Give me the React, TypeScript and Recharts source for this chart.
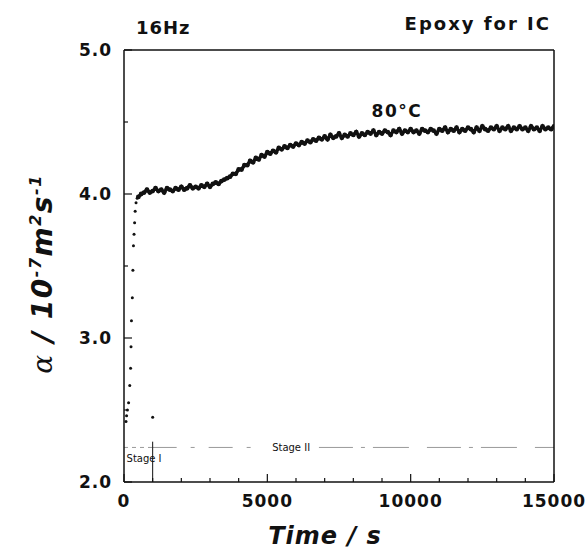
import React from "react";
import {
  ScatterChart,
  Scatter,
  XAxis,
  YAxis,
  ReferenceLine,
  ReferenceDot,
} from "recharts";

// initial fast rise (stage I), seconds / 10^-7 m2 s-1
const riseTime = [70, 90, 120, 160, 200, 230, 245, 260, 290, 310, 330, 350, 370, 390, 420, 460, 1000];
const riseAlpha = [2.42, 2.46, 2.5, 2.55, 2.67, 2.79, 2.94, 3.12, 3.28, 3.47, 3.64, 3.72, 3.8, 3.88, 3.94, 3.97, 2.45];

// band sampled every 100 s
const SAMPLE_STEP = 100;
const plateauStart = 500; // 500 .. 3000
const plateauAlpha = [
  3.98, 4.0, 4.01, 4.03, 4.01, 4.02, 4.04, 4.02, 4.03, 4.01, 4.04, 4.03, 4.02,
  4.04, 4.03, 4.05, 4.03, 4.04, 4.06, 4.04, 4.05, 4.04, 4.06, 4.05, 4.07, 4.05,
];
const transitionStart = 3100; // 3100 .. 7000
const transitionAlpha = [
  4.07, 4.08, 4.07, 4.09, 4.1, 4.11, 4.12, 4.14, 4.14, 4.17, 4.17, 4.2, 4.2,
  4.23, 4.22, 4.25, 4.24, 4.27, 4.26, 4.29, 4.28, 4.3, 4.29, 4.32, 4.31, 4.33,
  4.32, 4.34, 4.33, 4.35, 4.34, 4.36, 4.35, 4.37, 4.36, 4.38, 4.37, 4.39, 4.38,
  4.4,
];
const finalStart = 7100; // 7100 .. 15000
const finalAlpha = [
  4.38, 4.41, 4.39, 4.4, 4.42, 4.39, 4.41, 4.4, 4.42, 4.41, 4.43, 4.4, 4.42,
  4.41, 4.43, 4.42, 4.44, 4.41, 4.43, 4.42, 4.44, 4.43, 4.41, 4.44, 4.43, 4.45,
  4.42, 4.44, 4.43, 4.45, 4.43, 4.44, 4.42, 4.45, 4.44, 4.43, 4.45, 4.44, 4.42,
  4.45, 4.44, 4.46, 4.43, 4.45, 4.44, 4.46, 4.43, 4.45, 4.44, 4.46, 4.45, 4.43,
  4.46, 4.44, 4.47, 4.45, 4.44, 4.46, 4.45, 4.47, 4.44, 4.46, 4.45, 4.47, 4.44,
  4.46, 4.45, 4.47, 4.45, 4.46, 4.44, 4.47, 4.45, 4.46, 4.44, 4.47, 4.45, 4.46,
  4.45, 4.47,
];

const xTicks = [0, 1000, 2000, 3000, 4000, 5000, 6000, 7000, 8000, 9000, 10000, 11000, 12000, 13000, 14000, 15000];
const xMajor = [0, 5000, 10000, 15000];
const yTicks = [2, 2.5, 3, 3.5, 4, 4.5, 5];
const yMajor = [2, 3, 4, 5];

const stageLevel = 2.24;
const stageBoundary = 1000;

const toPoints = (start: number, values: number[]) =>
  values.map((a, i) => ({ t: start + i * SAMPLE_STEP, a }));

const riseData = riseTime.map((t, i) => ({ t, a: riseAlpha[i] }));
const bandData = [
  ...toPoints(plateauStart, plateauAlpha),
  ...toPoints(transitionStart, transitionAlpha),
  ...toPoints(finalStart, finalAlpha),
];

const INK = "#111";
const FONT = "'DejaVu Sans', sans-serif";

const BottomTick = ({ x, y, payload }: any) => {
  const major = xMajor.includes(payload.value);
  return (
    <g>
      <line x1={x} x2={x} y1={y} y2={y - (major ? 8 : 4)} stroke={INK} strokeWidth={1.2} />
      {major && (
        <text x={x} y={y + 25} textAnchor="middle" fontFamily={FONT} fontWeight="bold" fontSize={17} letterSpacing={1} fill={INK}>
          {payload.value}
        </text>
      )}
    </g>
  );
};

const TopTick = ({ x, y, payload }: any) => {
  const major = xMajor.includes(payload.value);
  return <line x1={x} x2={x} y1={y} y2={y + (major ? 8 : 4)} stroke={INK} strokeWidth={1.2} />;
};

const LeftTick = ({ x, y, payload }: any) => {
  const major = yMajor.includes(payload.value);
  return (
    <g>
      <line x1={x} x2={x + (major ? 8 : 4)} y1={y} y2={y} stroke={INK} strokeWidth={1.2} />
      {major && (
        <text x={x - 12} y={y + 6} textAnchor="end" fontFamily={FONT} fontWeight="bold" fontSize={17} letterSpacing={1} fill={INK}>
          {payload.value.toFixed(1)}
        </text>
      )}
    </g>
  );
};

const RightTick = ({ x, y, payload }: any) => {
  const major = yMajor.includes(payload.value);
  return <line x1={x} x2={x - (major ? 8 : 4)} y1={y} y2={y} stroke={INK} strokeWidth={1.2} />;
};

const renderYLabel = ({ viewBox }: any) => {
  const cx = viewBox.x + 38;
  const cy = viewBox.y + viewBox.height / 2 + 8;
  return (
    <text
      transform={`translate(${cx},${cy}) rotate(-90)`}
      textAnchor="middle"
      fontFamily={FONT}
      fontWeight="bold"
      fontStyle="italic"
      fontSize={28}
      letterSpacing={1.5}
      fill={INK}
    >
      <tspan fontFamily="'DejaVu Serif', serif" fontWeight="normal">α</tspan>
      <tspan> / 10</tspan>
      <tspan dy={-11} fontSize={16}>-7</tspan>
      <tspan dy={11}>m</tspan>
      <tspan dy={-11} fontSize={16}>2</tspan>
      <tspan dy={11}>s</tspan>
      <tspan dy={-11} fontSize={16}>-1</tspan>
    </text>
  );
};

const renderXLabel = ({ viewBox }: any) => (
  <text
    x={viewBox.x + viewBox.width / 2 - 14}
    y={viewBox.y + 62}
    textAnchor="middle"
    fontFamily={FONT}
    fontWeight="bold"
    fontStyle="italic"
    fontSize={24}
    letterSpacing={1}
    fill={INK}
  >
    Time / s
  </text>
);

const smallLabel = (text: string) => ({ viewBox }: any) => (
  <text x={viewBox.x} y={viewBox.y + 4} textAnchor="middle" fontFamily={FONT} fontSize={10} fill={INK}>
    {text}
  </text>
);

const tempLabel = ({ viewBox }: any) => (
  <text x={viewBox.x} y={viewBox.y + 7} textAnchor="middle" fontFamily={FONT} fontWeight="bold" fontSize={17} letterSpacing={1.5} fill={INK}>
    80°C
  </text>
);

const SmallDot = (p: any) => <circle cx={p.cx} cy={p.cy} r={1.5} fill={INK} />;
const BandDot = (p: any) => <circle cx={p.cx} cy={p.cy} r={2.4} fill={INK} />;

export default function App() {
  return (
    <div style={{ position: "absolute", left: 0, top: 0, width: 587, height: 550, background: "#fff" }}>
      <ScatterChart width={587} height={550} margin={{ top: 40, right: 23, bottom: 4, left: 14 }}>
        <XAxis
          xAxisId="b"
          type="number"
          dataKey="t"
          domain={[0, 15000]}
          ticks={xTicks}
          interval={0}
          tickSize={0}
          tickMargin={0}
          height={64}
          tickLine={false}
          axisLine={{ stroke: INK, strokeWidth: 1.5 }}
          tick={(p: any) => <BottomTick {...p} />}
          label={renderXLabel}
          allowDataOverflow
        />
        <XAxis
          xAxisId="top"
          orientation="top"
          type="number"
          domain={[0, 15000]}
          ticks={xTicks}
          interval={0}
          tickSize={0}
          tickMargin={0}
          height={10}
          tickLine={false}
          axisLine={{ stroke: INK, strokeWidth: 1.5 }}
          tick={(p: any) => <TopTick {...p} />}
        />
        <YAxis
          yAxisId="l"
          type="number"
          dataKey="a"
          domain={[2, 5]}
          ticks={yTicks}
          interval={0}
          tickSize={0}
          tickMargin={0}
          width={110}
          tickLine={false}
          axisLine={{ stroke: INK, strokeWidth: 1.5 }}
          tick={(p: any) => <LeftTick {...p} />}
          label={renderYLabel}
          allowDataOverflow
        />
        <YAxis
          yAxisId="right"
          orientation="right"
          type="number"
          domain={[2, 5]}
          ticks={yTicks}
          interval={0}
          tickSize={0}
          tickMargin={0}
          width={10}
          tickLine={false}
          axisLine={{ stroke: INK, strokeWidth: 1.5 }}
          tick={(p: any) => <RightTick {...p} />}
        />

        <ReferenceLine
          xAxisId="b"
          yAxisId="l"
          segment={[{ x: 0, y: stageLevel }, { x: stageBoundary, y: stageLevel }]}
          stroke="#999"
          strokeDasharray="4 4"
        />
        <ReferenceLine
          xAxisId="b"
          yAxisId="l"
          segment={[{ x: stageBoundary, y: stageLevel }, { x: 4900, y: stageLevel }]}
          stroke="#999"
          strokeDasharray="24 14 4 14"
        />
        <ReferenceLine
          xAxisId="b"
          yAxisId="l"
          segment={[{ x: 6800, y: stageLevel }, { x: 15000, y: stageLevel }]}
          stroke="#999"
          strokeDasharray="34 8 4 8 36 18"
        />
        <ReferenceLine
          xAxisId="b"
          yAxisId="l"
          segment={[{ x: stageBoundary, y: 2 }, { x: stageBoundary, y: 2.28 }]}
          stroke={INK}
          strokeWidth={1}
        />
        <ReferenceDot xAxisId="b" yAxisId="l" x={700} y={2.17} r={0} label={smallLabel("Stage I")} />
        <ReferenceDot xAxisId="b" yAxisId="l" x={5830} y={stageLevel} r={0} label={smallLabel("Stage II")} />
        <ReferenceDot xAxisId="b" yAxisId="l" x={9520} y={4.58} r={0} label={tempLabel} />

        <Scatter xAxisId="b" yAxisId="l" data={riseData} shape={SmallDot} isAnimationActive={false} />
        <Scatter
          xAxisId="b"
          yAxisId="l"
          data={bandData}
          shape={BandDot}
          line={{ stroke: INK, strokeWidth: 3.5 }}
          isAnimationActive={false}
        />
      </ScatterChart>

      <svg width={587} height={50} style={{ position: "absolute", left: 0, top: 0, pointerEvents: "none" }}>
        <text x={136} y={34} fontFamily={FONT} fontWeight="bold" fontSize={18} letterSpacing={1} fill={INK}>
          16Hz
        </text>
        <text x={551} y={30} textAnchor="end" fontFamily={FONT} fontWeight="bold" fontSize={18} letterSpacing={2} fill={INK}>
          Epoxy for IC
        </text>
      </svg>
    </div>
  );
}
